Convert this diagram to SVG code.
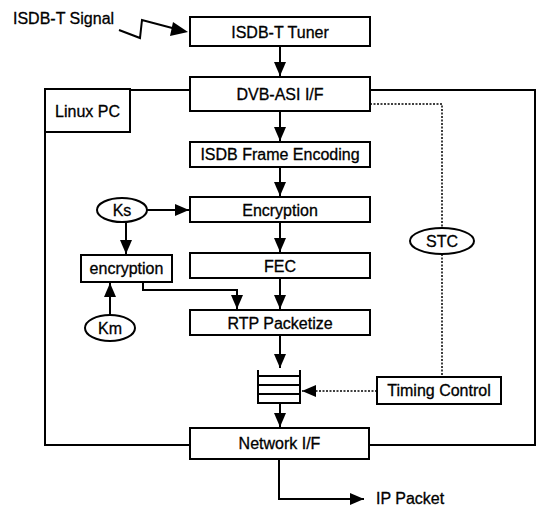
<svg xmlns="http://www.w3.org/2000/svg" width="540" height="507" viewBox="0 0 540 507">
<style>
.b{fill:#fff;stroke:#000;stroke-width:2}
.t{font-family:"Liberation Sans",Arial,sans-serif;font-size:16px;fill:#000;text-anchor:middle;stroke:#000;stroke-width:0.3}
.l{fill:none;stroke:#000;stroke-width:2}
.d{fill:none;stroke:#000;stroke-width:1.5;stroke-dasharray:2 1.5}
</style>
<defs>
<marker id="a2" markerWidth="14" markerHeight="12" refX="14" refY="6" orient="auto" markerUnits="userSpaceOnUse" viewBox="0 0 14 12"><path d="M0,0 L14,6 L0,12 z" fill="#000"/></marker>
</defs>
<rect width="540" height="507" fill="#fff"/>
<g id="frame">
<path class="l" d="M190,90 H45 V445 H190 M369,445 H535 V90 H370"/>
</g>
<g id="linuxpc"><rect class="b" x="45" y="89" width="85" height="43"/><text class="t" x="87.5" y="117">Linux PC</text></g>
<g id="signal"><text class="t" x="13" y="24" style="text-anchor:start">ISDB-T Signal</text></g>
<g id="connectors">
<path class="l" d="M119,30 L140,38 L142,20 L176,29"/>
<path d="M173,22 L188,32 L170,36 z" fill="#000"/>
<path class="l" d="M280,46 V76" marker-end="url(#a2)"/>
<path class="l" d="M280,111 V141" marker-end="url(#a2)"/>
<path class="l" d="M280,167 V196" marker-end="url(#a2)"/>
<path class="l" d="M280,222 V252" marker-end="url(#a2)"/>
<path class="l" d="M280,278 V309" marker-end="url(#a2)"/>
<path class="l" d="M280,335 V368" marker-end="url(#a2)"/>
<path class="l" d="M280,403 V427" marker-end="url(#a2)"/>
<path class="l" d="M147,210 H189" marker-end="url(#a2)"/>
<path class="l" d="M126,222 V254" marker-end="url(#a2)"/>
<path class="l" d="M110,315 V283" marker-end="url(#a2)"/>
<path class="l" d="M143,282 V290 H237 V309" marker-end="url(#a2)"/>
<path class="l" d="M279,459 V499 H364" marker-end="url(#a2)"/>
<path class="d" d="M370,104 H442 V228 M442,254 V377"/>
<path class="d" d="M377,391 H302" marker-end="url(#a2)"/>
</g>
<g id="tuner"><rect class="b" x="190" y="17" width="180" height="29"/><text class="t" x="280" y="37.5">ISDB-T Tuner</text></g>
<g id="dvbasi"><rect class="b" x="190" y="77" width="180" height="34"/><text class="t" x="280" y="99.5">DVB-ASI I/F</text></g>
<g id="frameenc"><rect class="b" x="190" y="142" width="180" height="25"/><text class="t" x="280" y="160">ISDB Frame Encoding</text></g>
<g id="encryption"><rect class="b" x="190" y="197" width="180" height="25"/><text class="t" x="280" y="215.5">Encryption</text></g>
<g id="fec"><rect class="b" x="190" y="253" width="180" height="25"/><text class="t" x="280" y="271.5">FEC</text></g>
<g id="rtp"><rect class="b" x="190" y="310" width="180" height="25"/><text class="t" x="280" y="328.5">RTP Packetize</text></g>
<g id="ks"><ellipse class="b" cx="122" cy="210" rx="25" ry="12"/><text class="t" x="122" y="215.5">Ks</text></g>
<g id="enc2"><rect class="b" x="81" y="255" width="91" height="27"/><text class="t" x="126.5" y="274">encryption</text></g>
<g id="km"><ellipse class="b" cx="110" cy="328" rx="25" ry="13"/><text class="t" x="110" y="334">Km</text></g>
<g id="stc"><ellipse class="b" cx="442" cy="241" rx="32" ry="13"/><text class="t" x="442" y="247">STC</text></g>
<g id="timing"><rect class="b" x="377" y="377" width="124" height="27"/><text class="t" x="439" y="396">Timing Control</text></g>
<g id="queue"><path class="l" d="M258,370 V403 H300 V370 M258,376 H300 M258,385 H300 M258,394 H300"/></g>
<g id="netif"><rect class="b" x="190" y="428" width="179" height="31"/><text class="t" x="279.5" y="449">Network I/F</text></g>
<g id="ippacket"><text class="t" x="376" y="504" style="text-anchor:start">IP Packet</text></g>
</svg>
